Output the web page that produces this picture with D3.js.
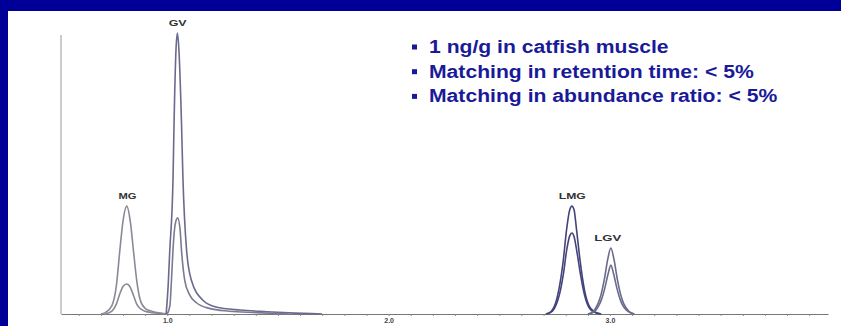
<!DOCTYPE html>
<html>
<head>
<meta charset="utf-8">
<script src="https://cdn.jsdelivr.net/npm/d3@7"></script>
<style>
  body { margin: 0; background: #fff; }
  svg { display: block; }
  .x.axis text { font-family: "Liberation Sans", Arial, sans-serif; font-weight: bold; font-size: 7px; fill: #444; }
  .peak-label { font-family: "Liberation Sans", Arial, sans-serif; font-weight: bold; font-size: 9.5px; fill: #333; }
  .note { font-family: "Liberation Sans", Arial, sans-serif; font-weight: bold; font-size: 18px; fill: #1a1a99; }
</style>
</head>
<body>
<div id="chart"></div>
<script>
// retention time (min) vs relative abundance
const mgHigh = [[0.70,0],[0.72,0.5],[0.75,3],[0.77,10],[0.785,22],[0.80,33],[0.817,38.4],[0.833,33],[0.848,22],[0.862,12],[0.878,5],[0.90,2],[0.93,1],[0.97,0.3],[1.0,0]];
const mgLow = [[0.72,0],[0.75,1],[0.77,3.5],[0.785,7],[0.80,9.8],[0.817,10.7],[0.833,9.5],[0.848,6.5],[0.862,3.5],[0.88,1.8],[0.90,1],[0.93,0.5],[0.97,0.2],[1.0,0]];
const gvHigh = [[0.995,0],[1.004,10],[1.011,22],[1.026,48],[1.031,69],[1.040,95],[1.046,100],[1.052,95],[1.064,69],[1.071,48],[1.087,23],[1.109,12],[1.16,5],[1.22,2.5],[1.33,1.4],[1.45,0.8],[1.55,0.4],[1.7,0]];
const gvLow = [[1.0,0],[1.012,3],[1.019,12],[1.026,23],[1.036,32],[1.047,34.2],[1.058,30],[1.064,23],[1.079,12],[1.10,7],[1.132,4],[1.19,2],[1.28,1],[1.40,0.5],[1.55,0]];
const lmgHigh = [[2.71,0],[2.735,1],[2.755,4],[2.77,9],[2.789,19],[2.804,30],[2.818,37],[2.828,38.4],[2.838,37],[2.849,30],[2.865,19],[2.885,8.5],[2.905,3],[2.93,0.8],[2.96,0]];
const lmgLow = [[2.715,0],[2.74,1],[2.758,3.5],[2.772,7],[2.79,14.5],[2.805,23],[2.819,28],[2.828,28.8],[2.838,27.5],[2.85,22.5],[2.866,14.5],[2.886,6.5],[2.906,2.2],[2.93,0.6],[2.96,0]];
const lgvHigh = [[2.90,0],[2.925,1],[2.945,3.5],[2.96,7],[2.975,12.5],[2.99,19.5],[3.004,23.5],[3.018,19.5],[3.033,12.5],[3.048,7],[3.063,3.5],[3.085,1],[3.11,0]];
const lgvLow = [[2.905,0],[2.93,0.8],[2.947,2.6],[2.962,5.2],[2.977,9.3],[2.992,14.4],[3.004,17.4],[3.016,14.4],[3.031,9.3],[3.046,5.2],[3.061,2.6],[3.085,0.8],[3.11,0]];

const peakNames = ["MG", "GV", "LMG", "LGV"];
const peakTimes = [0.82, 1.047, 2.83, 2.99];
const peakTops = [38.4, 100, 38.4, 23.5];

const xTickLabels = [1.0, 2.0, 3.0];
const notes = ["1 ng/g in catfish muscle", "Matching in retention time: < 5%", "Matching in abundance ratio: < 5%"];

const W = 841, H = 326;
const margin = { top: 33, right: 13, bottom: 12, left: 61 };

const svg = d3.select("#chart").append("svg")
  .attr("width", W)
  .attr("height", H);

// slide frame
svg.append("rect").attr("width", W).attr("height", H).attr("fill", "#000099");
svg.append("rect").attr("x", 8).attr("y", 11).attr("width", W - 8).attr("height", H - 11).attr("fill", "#fff");

const x = d3.scaleLinear().domain([0.52, 3.985]).range([margin.left, W - margin.right]);
const y = d3.scaleLinear().domain([0, 100]).range([H - margin.bottom, margin.top]);

const line = d3.line()
  .x(d => x(d[0]))
  .y(d => y(d[1]))
  .curve(d3.curveMonotoneX);

// y axis: bare line
svg.append("g")
  .attr("class", "y axis")
  .attr("transform", "translate(" + margin.left + ",0)")
  .call(d3.axisLeft(y).tickValues([]).tickSizeOuter(0))
  .call(g => g.select(".domain").attr("stroke", "#999").attr("d", "M0," + y(0) + "V" + (margin.top + 2)));

// x axis: minor ticks every 0.1, labels on whole minutes
const xAxis = d3.axisBottom(x)
  .tickValues(x.ticks(35))
  .tickSize(2)
  .tickSizeOuter(0)
  .tickPadding(2)
  .tickFormat(d => xTickLabels.some(v => Math.abs(v - d) < 1e-6) ? d3.format(".1f")(d) : "");

svg.append("g")
  .attr("class", "x axis")
  .attr("transform", "translate(0," + y(0) + ")")
  .call(xAxis)
  .call(g => g.select(".domain").attr("stroke", "#777"))
  .call(g => g.selectAll(".tick line").attr("stroke", "#888"));

const traces = [
  { data: mgHigh, color: "#8a8a96" },
  { data: mgLow, color: "#8a8a96" },
  { data: gvHigh, color: "#6a6a90" },
  { data: gvLow, color: "#7a7a92" },
  { data: lmgHigh, color: "#44447c" },
  { data: lmgLow, color: "#44447c" },
  { data: lgvHigh, color: "#6a6a8c" },
  { data: lgvLow, color: "#6a6a8c" }
];

svg.selectAll(".trace")
  .data(traces)
  .enter()
  .append("path")
  .attr("class", "trace")
  .attr("d", d => line(d.data))
  .attr("fill", "none")
  .attr("stroke", d => d.color)
  .attr("stroke-width", 1.6);

svg.selectAll(".peak-label")
  .data(peakNames)
  .enter()
  .append("text")
  .attr("class", "peak-label")
  .attr("x", (d, i) => x(peakTimes[i]))
  .attr("y", (d, i) => y(peakTops[i]) - 7)
  .attr("text-anchor", "middle")
  .attr("textLength", d => d.length * 9)
  .attr("lengthAdjust", "spacingAndGlyphs")
  .text(d => d);

// bullet notes (the slide's text is set wide)
const noteG = svg.append("g").attr("transform", "translate(412,53)");
noteG.selectAll("rect")
  .data(notes)
  .enter()
  .append("rect")
  .attr("x", 0)
  .attr("y", (d, i) => i * 24.7 - 8.5)
  .attr("width", 5)
  .attr("height", 5)
  .attr("fill", "#1a1a99");
noteG.selectAll("text")
  .data(notes)
  .enter()
  .append("text")
  .attr("class", "note")
  .attr("transform", (d, i) => "translate(17," + (i * 24.7) + ") scale(1.175,1)")
  .text(d => d);
</script>
</body>
</html>
